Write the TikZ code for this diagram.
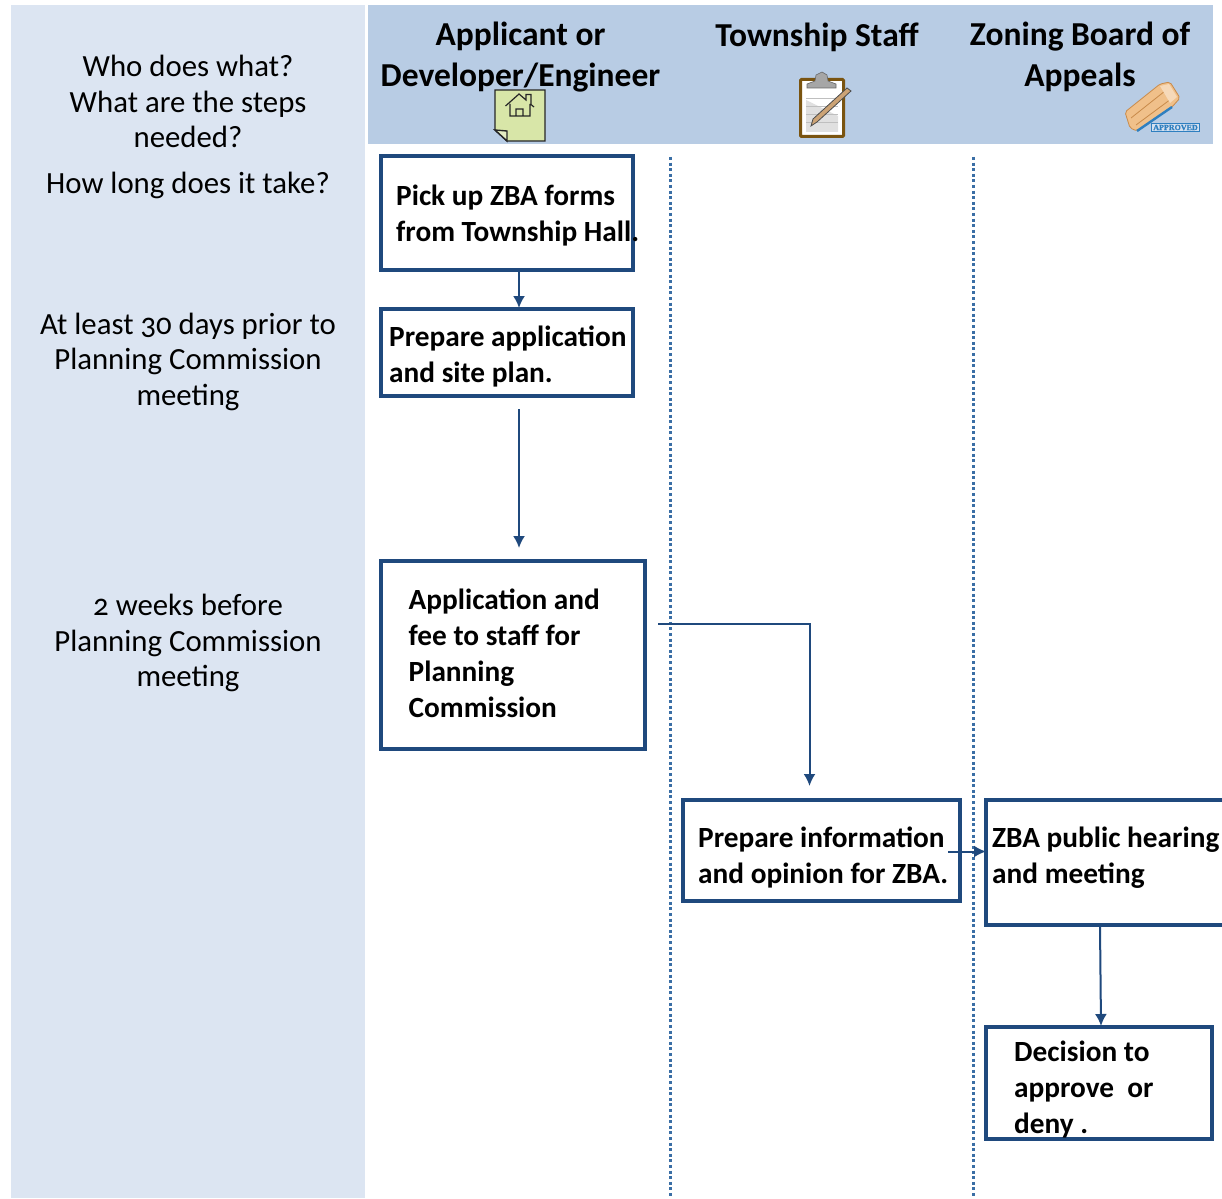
\documentclass[tikz,border=0pt]{standalone}
\usepackage{fontspec}
\setmainfont{Carlito}
\newfontfamily\sidefont[Numbers=OldStyle]{Carlito}
\usetikzlibrary{arrows.meta,calc}
\definecolor{sidebg}{HTML}{DCE5F2}
\definecolor{headbg}{HTML}{B8CCE4}
\definecolor{boxline}{HTML}{1F497D}
\definecolor{flow}{HTML}{1F497D}
\definecolor{lane}{HTML}{3A6EA5}
\definecolor{notefill}{HTML}{D8E6A8}
\definecolor{wood}{HTML}{F0C08A}
\definecolor{woodd}{HTML}{C88A4A}
\definecolor{stampb}{HTML}{2E7FC0}
\definecolor{clipb}{HTML}{7A5410}
\tikzset{
 x=1pt,y=-1pt,
 flowbox/.style={draw=boxline,line width=4pt,fill=white,inner sep=0pt},
 boxtext/.style={font=\fontsize{29.3}{36}\selectfont\bfseries,align=left,anchor=west,inner sep=0pt,text=black},
 headtext/.style={font=\fontsize{33.5}{41}\selectfont\bfseries,align=center,inner sep=0pt,text=black},
 sidetext/.style={font=\fontsize{30.8}{35.5}\selectfont\sidefont,align=center,inner sep=0pt,text=black},
 conn/.style={draw=flow,line width=2pt,-{Latex[length=12pt,width=12pt]}},
 lanesep/.style={draw=lane,line width=3pt,dash pattern=on 3pt off 2.6pt},
}
\begin{document}
\begin{tikzpicture}
\useasboundingbox (0,0) rectangle (1222,1198);
\fill[white] (0,0) rectangle (1222,1198);
\fill[sidebg] (11,5) rectangle (365,1198);
\fill[headbg] (368,5) rectangle (1213,144);
% lanes
\coordinate (l1t) at (670.5,157); \coordinate (l1b) at (670.5,1198);
\coordinate (l2t) at (973,157); \coordinate (l2b) at (973,1198);
\draw[lanesep] (l1t) -- (l1b);
\draw[lanesep] (l2t) -- (l2b);
% side text
\node[sidetext] (s1) at (188,101.5) {Who does what?\\What are the steps\\needed?};
\node[sidetext] (s2) at (188,185.5) {How long does it take?};
\node[sidetext] (s3) at (188,361.5) {At least 30 days prior to\\Planning Commission\\meeting};
\node[sidetext] (s4) at (188,643) {2 weeks before\\Planning Commission\\meeting};
% header
\node[headtext] (h1) at (520.5,57) {Applicant or\\Developer/Engineer};
\node[headtext] (h2) at (817,37) {Township Staff};
\node[headtext] (h3) at (1080,57) {Zoning Board of\\Appeals};
% note icon
\draw[fill=notefill,line width=1.4pt,draw=black!85] (495,90) -- (545,90) -- (545,141) -- (507,141) -- (495,130) -- cycle;
\draw[fill=notefill!70!white,line width=1.4pt,draw=black!85] (495,130) -- (507,131) -- (507,141) -- cycle;
\draw[line width=1.2pt,draw=black!85] (505.5,106) -- (519,94) -- (526,100) -- (526,94.5) -- (531,94.5) -- (531,104.5) -- (534,107)
 (510,104) -- (510,116) -- (530,116) -- (530,104) (516,116) -- (516,109) -- (523,109) -- (523,116);
% clipboard icon
\draw[clipb,fill=white,line width=3pt,rounded corners=1pt] (800.5,79.5) rectangle (843.5,136.5);
\fill[black!12] (806,100) -- (838,116) -- (838,132) -- (806,132) -- cycle;
\draw[black!25,line width=.5pt] (806,98) -- (838,98) (806,106) -- (838,106) (806,114) -- (838,114) (806,122) -- (838,122);
\draw[black!60,fill=black!35,line width=.6pt] (807,88) -- (807,84) -- (815,81) -- (816,75) -- (822,72) -- (827,75) -- (828,81) -- (836,84) -- (836,88) -- cycle;
\draw[black!70,fill=wood!85!black,line width=.8pt] (811,126) -- (813,119) -- (847,88) -- (851,91) -- (817,122) -- cycle;
% stamp icon
\draw[woodd,fill=wood,line width=.8pt,rounded corners=2pt] (1125,112) -- (1160,84) -- (1170,82) -- (1180,98) -- (1172,107) -- (1137,131) -- (1130,128) -- cycle;
\draw[woodd,line width=.8pt] (1131,118) -- (1165,91) (1136,125) -- (1171,99);
\fill[wood!60!white] (1160,86) -- (1169,84) -- (1177,97) -- (1170,103) -- cycle;
\draw[stampb,line width=2.4pt] (1137,131) -- (1172,107);
\node[draw=stampb,fill=headbg!60!white,line width=1pt,inner xsep=1.4pt,inner ysep=1.4pt,font=\fontsize{8}{8}\selectfont\bfseries\rmfamily,text=stampb] (stamp) at (1175.5,127.5) {\fontspec{Liberation Serif}[FakeBold=1]APPROVED};
% boxes
\node[flowbox,anchor=north west,minimum width=252pt,minimum height=113pt] (b1) at (378.5,154.5) {};
\node[boxtext] (t1) at (396,215.5) {Pick up ZBA forms\\from Township Hall.};
\node[flowbox,anchor=north west,minimum width=252pt,minimum height=87pt] (b2) at (378.5,306.5) {};
\node[boxtext] (t2) at (389,356.5) {Prepare application\\and site plan.};
\node[flowbox,anchor=north west,minimum width=264pt,minimum height=188pt] (b3) at (378.5,558.5) {};
\node[boxtext] (t3) at (408.5,653.5) {Application and\\fee to staff for\\Planning\\Commission};
\node[flowbox,anchor=north west,minimum width=277pt,minimum height=101pt] (b4) at (680.5,797.5) {};
\node[boxtext] (t4) at (698,857.5) {Prepare information\\and opinion for ZBA.};
\node[flowbox,anchor=north west,minimum width=250pt,minimum height=125pt] (b5) at (983.5,797.5) {};
\node[boxtext] (t5) at (992,858) {ZBA public hearing\\and meeting};
\node[flowbox,anchor=north west,minimum width=226pt,minimum height=112pt] (b6) at (983.5,1025) {};
\node[boxtext] (t6) at (1014,1090) {Decision to\\approve~ or\\deny .};
% connectors
\coordinate (c1a) at (519,271); \coordinate (c1b) at (519,308);
\draw[conn] (c1a) -- (c1b);
\coordinate (c2a) at (519,409); \coordinate (c2b) at (519,548);
\draw[conn] (c2a) -- (c2b);
\coordinate (c3a) at (658,623.5); \coordinate (c3m) at (809.5,623.5); \coordinate (c3b) at (809.5,786);
\draw[conn] (c3a) -- (c3m) -- (c3b);
\coordinate (c4a) at (948,851.5); \coordinate (c4b) at (986,851.5);
\draw[conn] (c4a) -- (c4b);
\coordinate (c5a) at (1100,927); \coordinate (c5b) at (1101,1026);
\draw[conn] (c5a) -- (c5b);
\end{tikzpicture}
\end{document}
